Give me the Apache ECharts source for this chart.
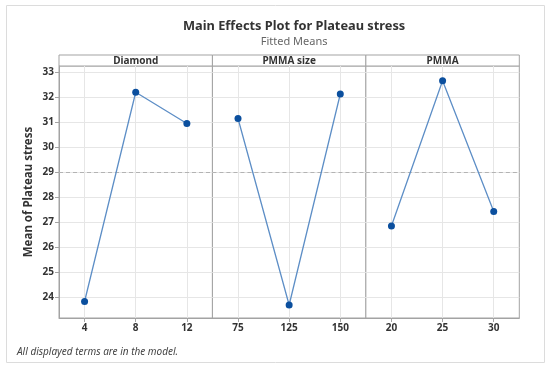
<!DOCTYPE html>
<html><head><meta charset="utf-8">
<script src="https://cdn.jsdelivr.net/npm/echarts@6/dist/echarts.min.js"></script>
<style>html,body{margin:0;padding:0;background:#fff}#c{width:550px;height:369px}</style>
</head><body><div id="c"></div>
<script>
// ---- data ----
const panelNames = ['Diamond', 'PMMA size', 'PMMA'];
const diamondCats = ['4', '8', '12'];
const diamondVals = [23.82, 32.19, 30.94];
const pmmaSizeCats = ['75', '125', '150'];
const pmmaSizeVals = [31.14, 23.68, 32.12];
const pmmaCats = ['20', '25', '30'];
const pmmaVals = [26.84, 32.65, 27.42];
const yTicks = [24, 25, 26, 27, 28, 29, 30, 31, 32, 33];
const overallMean = 29;
const yMin = 23.16, yMax = 33.24;

// ---- layout ----
const FONT = 'Noto Sans';
const L = 59, R = 519.3, TOP = 66, BOT = 318, STRIP_T = 55;
const PW = (R - L) / 3;
const cats = [diamondCats, pmmaSizeCats, pmmaCats];
const vals = [diamondVals, pmmaSizeVals, pmmaVals];

const grids = [], xAxes = [], yAxes = [], series = [], graphics = [];
graphics.push({type:'rect', shape:{x:6.5, y:5.5, width:538, height:357}, style:{fill:'none', stroke:'#dcdcdc', lineWidth:1}, silent:true});
for (let i = 0; i < 3; i++) {
  grids.push({left: L + i*PW, top: TOP, width: PW, height: BOT - TOP, show: true, borderColor: '#a3a3a3', borderWidth: 1, backgroundColor: '#fff'});
  const c = cats[i];
  xAxes.push({
    type: 'value', gridIndex: i, min: -0.5, max: 2.5,
    axisLine: {show: true, onZero: false, lineStyle: {color: '#a3a3a3'}},
    axisTick: {show: true, length: 4, lineStyle: {color: '#a3a3a3'}, customValues: [0, 1, 2]},
    axisLabel: {customValues: [0, 1, 2], formatter: v => c[Math.round(v)], color: '#333', fontFamily: FONT, fontSize: 10, fontWeight: 'bold', margin: 5},
    splitLine: {show: true, lineStyle: {color: '#e6e6e6'}}
  });
  yAxes.push({
    type: 'value', gridIndex: i, min: yMin, max: yMax,
    axisLine: {show: i === 0, onZero: false, lineStyle: {color: '#a3a3a3'}},
    axisTick: {show: i === 0, length: 4, lineStyle: {color: '#a3a3a3'}, customValues: yTicks},
    axisLabel: {show: i === 0, customValues: yTicks, color: '#333', fontFamily: FONT, fontSize: 10, fontWeight: 'bold', margin: 5},
    splitLine: {show: true, lineStyle: {color: '#e6e6e6'}},
    name: i === 0 ? 'Mean of Plateau stress' : '',
    nameLocation: 'middle', nameGap: 24,
    nameTextStyle: {color: '#333', fontFamily: FONT, fontSize: 11.5, fontWeight: 'bold'}
  });
  series.push({
    type: 'line', xAxisIndex: i, yAxisIndex: i,
    data: vals[i].map((v, k) => [k, v]),
    symbol: 'circle', symbolSize: 7,
    itemStyle: {color: '#0b4f9e'},
    lineStyle: {color: '#5d8ec6', width: 1.3},
    z: 5,
    markLine: {silent: true, symbol: 'none', label: {show: false},
      lineStyle: {color: '#b3b3b3', type: [4, 3], width: 1},
      data: [{yAxis: overallMean}]}
  });
  graphics.push({type:'rect', shape:{x: L + i*PW, y: STRIP_T, width: PW, height: TOP - STRIP_T}, style:{fill:'#fff', stroke:'#a3a3a3', lineWidth:1}, silent:true});
  graphics.push({type:'text', x: L + i*PW + PW/2, y: (STRIP_T + TOP)/2 + 0.5, style:{text: panelNames[i], fill:'#333', font:'bold 10px "' + FONT + '"', textAlign:'center', textVerticalAlign:'middle'}, silent:true});
}
graphics.push({type:'text', x: 17, y: 352, style:{text:'All displayed terms are in the model.', fill:'#444', font:'italic 10px "' + FONT + '"', textAlign:'left', textVerticalAlign:'middle'}, silent:true});

const chart = echarts.init(document.getElementById('c'), null, {renderer: 'canvas'});
chart.setOption({
  animation: false,
  title: {
    text: 'Main Effects Plot for Plateau stress', subtext: 'Fitted Means',
    left: (L + R)/2, textAlign: 'center', top: 15, itemGap: 3,
    textStyle: {color: '#333', fontFamily: FONT, fontSize: 12.8, fontWeight: 'bold'},
    subtextStyle: {color: '#666', fontFamily: FONT, fontSize: 11}
  },
  grid: grids, xAxis: xAxes, yAxis: yAxes, series: series, graphic: graphics
});
</script></body></html>
